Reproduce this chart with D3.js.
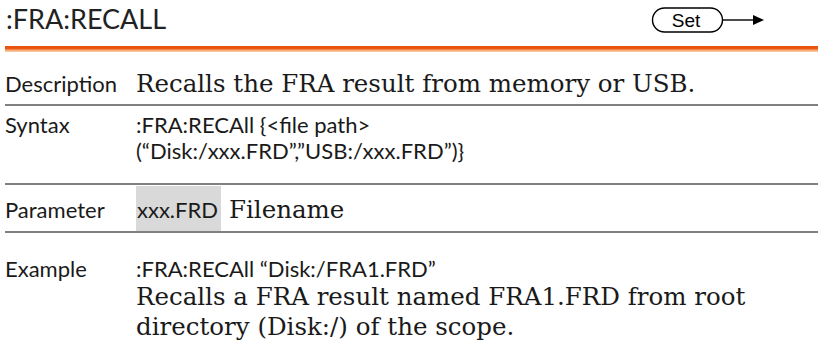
<!DOCTYPE html>
<html>
<head>
<meta charset="utf-8">
<script src="https://cdn.jsdelivr.net/npm/d3@7/dist/d3.min.js"></script>
<style>
  html, body { margin: 0; padding: 0; background: #fff; }
  svg { display: block; }
</style>
</head>
<body>
<svg id="chart" width="818" height="351"></svg>
<script>
// ---- content ----
const titleText = [":FRA:RECALL"];
const badgeText = ["Set"];
const rowLabels = ["Description", "Syntax", "Parameter", "Example"];
const descriptionLines = ["Recalls the FRA result from memory or USB."];
const syntaxLines = [":FRA:RECAll {<file path>", "(“Disk:/xxx.FRD”,”USB:/xxx.FRD”)}"];
const parameterNames = ["xxx.FRD"];
const parameterDescs = ["Filename"];
const exampleCode = [":FRA:RECAll “Disk:/FRA1.FRD”"];
const exampleLines = ["Recalls a FRA result named FRA1.FRD from root", "directory (Disk:/) of the scope."];

// ---- layout ----
const W = 818, H = 351;
const svg = d3.select("#chart");
const SANS = "'Lato', 'Open Sans', sans-serif";
const SERIF = "'DejaVu Serif', 'Liberation Serif', serif";
const INK = "#1a1a1a";
const labelX = 5, valueX = 136;

// title
svg.append("text").attr("x", 6).attr("y", 29)
  .attr("font-family", SANS).attr("font-size", 27).attr("fill", "#222")
  .text(titleText[0]);

// Set badge
const badge = svg.append("g");
badge.append("rect").attr("x", 652.5).attr("y", 8).attr("width", 70).attr("height", 24)
  .attr("rx", 12).attr("fill", "#fff").attr("stroke", "#000").attr("stroke-width", 1.4);
badge.append("text").attr("x", 686).attr("y", 27).attr("text-anchor", "middle")
  .attr("font-family", "'Liberation Sans', Arial, sans-serif").attr("font-size", 19).attr("fill", "#000")
  .text(badgeText[0]);
badge.append("line").attr("x1", 722.5).attr("x2", 754).attr("y1", 20).attr("y2", 20)
  .attr("stroke", "#000").attr("stroke-width", 1.4);
badge.append("path").attr("d", "M753,15 L764,20 L753,25 Z").attr("fill", "#000");

// orange rule
const defs = svg.append("defs");
const grad = defs.append("linearGradient").attr("id", "og").attr("x1", 0).attr("x2", 0).attr("y1", 0).attr("y2", 1);
grad.append("stop").attr("offset", "0%").attr("stop-color", "#e84e0f");
grad.append("stop").attr("offset", "50%").attr("stop-color", "#ec5a14");
grad.append("stop").attr("offset", "62%").attr("stop-color", "#f4995f");
grad.append("stop").attr("offset", "100%").attr("stop-color", "#fbd2b0");
svg.append("rect").attr("x", 5).attr("y", 46).attr("width", W - 5).attr("height", 6).attr("fill", "url(#og)");

// rows: baseline per row label
const rowBase = d3.scaleOrdinal().domain(rowLabels).range([92, 133, 218, 277]);
const ruleY = [105, 184, 232];

svg.selectAll("text.label").data(rowLabels).join("text").attr("class", "label")
  .attr("x", labelX).attr("y", d => rowBase(d))
  .attr("font-family", SANS).attr("font-size", 22).attr("fill", INK)
  .text(d => d);

svg.selectAll("line.rule").data(ruleY).join("line").attr("class", "rule")
  .attr("x1", 5).attr("x2", W).attr("y1", d => d).attr("y2", d => d)
  .attr("stroke", "#808080").attr("stroke-width", 2.2);

// description
svg.selectAll("text.desc").data(descriptionLines).join("text").attr("class", "desc")
  .attr("x", valueX).attr("y", (d, i) => rowBase("Description") + i * 29)
  .attr("font-family", SERIF).attr("font-size", 24.5).attr("fill", INK).text(d => d);

// syntax
svg.selectAll("text.syn").data(syntaxLines).join("text").attr("class", "syn")
  .attr("x", valueX).attr("y", (d, i) => rowBase("Syntax") + i * 26)
  .attr("font-family", SANS).attr("font-size", 22).attr("fill", INK).text(d => d);

// parameter
svg.append("rect").attr("x", 136).attr("y", 186).attr("width", 85).attr("height", 45).attr("fill", "#d9d9d9");
svg.selectAll("text.pn").data(parameterNames).join("text").attr("class", "pn")
  .attr("x", 137).attr("y", rowBase("Parameter"))
  .attr("font-family", SANS).attr("font-size", 22).attr("fill", INK).text(d => d);
svg.selectAll("text.pd").data(parameterDescs).join("text").attr("class", "pd")
  .attr("x", 229).attr("y", rowBase("Parameter"))
  .attr("font-family", SERIF).attr("font-size", 24.5).attr("fill", INK).text(d => d);

// example
svg.selectAll("text.exc").data(exampleCode).join("text").attr("class", "exc")
  .attr("x", valueX).attr("y", rowBase("Example"))
  .attr("font-family", SANS).attr("font-size", 22).attr("fill", INK).text(d => d);
svg.selectAll("text.ext").data(exampleLines).join("text").attr("class", "ext")
  .attr("x", valueX).attr("y", (d, i) => rowBase("Example") + 28 + i * 30)
  .attr("font-family", SERIF).attr("font-size", 24.5).attr("fill", INK).text(d => d);
</script>
</body>
</html>
